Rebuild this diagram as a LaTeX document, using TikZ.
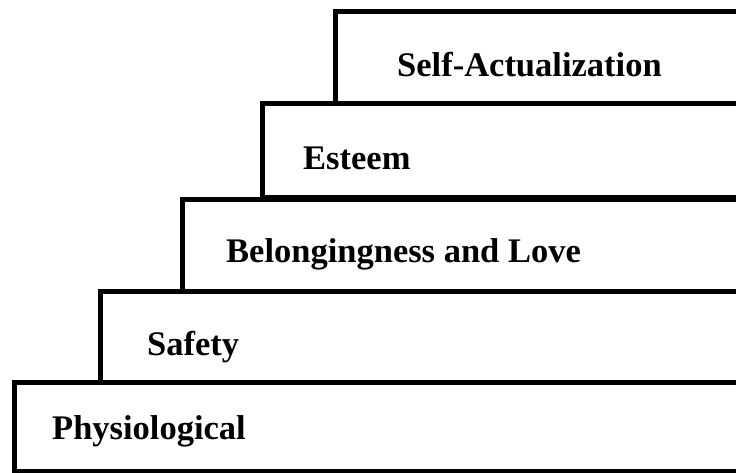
\documentclass[tikz,border=0pt]{standalone}
\usepackage{fontspec}
\setmainfont{Liberation Serif}
\begin{document}
\begin{tikzpicture}[x=1pt,y=-1pt,
  stair/.style={line width=5pt,line join=miter,black},
  lbl/.style={anchor=base west,inner sep=0pt,font=\fontsize{34.5}{40}\selectfont\bfseries}]
\useasboundingbox (0,0) rectangle (736,473);
\clip (0,0) rectangle (736,473);
\draw[stair] (745,471) -- (14,471) -- (14,382) -- (745,382);
\draw[stair] (745,382) -- (100,382) -- (100,291) -- (745,291);
\draw[stair] (745,291) -- (182,291) -- (182,200) -- (745,200);
\draw[stair] (745,198) -- (262,198) -- (262,104) -- (745,104);
\draw[stair] (745,104) -- (335,104) -- (335,12) -- (745,12);
\node[lbl] (phys) at (52,439) {Physiological};
\node[lbl] (safe) at (147,355) {Safety};
\node[lbl] (belo) at (226,262) {Belongingness and Love};
\node[lbl] (este) at (303,170) {Esteem};
\node[lbl] (self) at (397,77) {Self-Actualization};
\end{tikzpicture}
\end{document}
